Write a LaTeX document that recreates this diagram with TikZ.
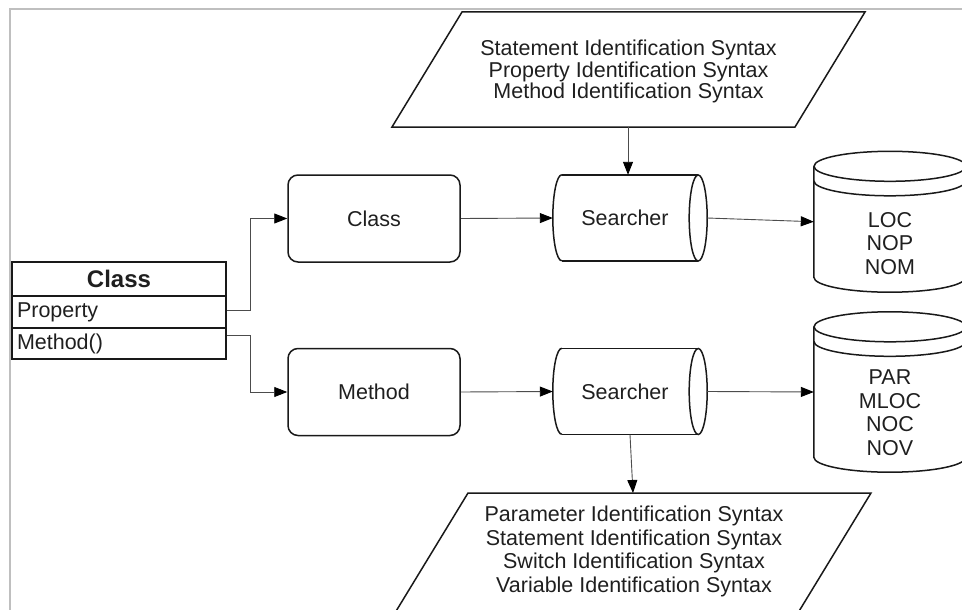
\documentclass[tikz,border=0pt]{standalone}
\usepackage{fontspec}
\setmainfont{Liberation Sans}
\usetikzlibrary{arrows.meta,calc}

% horizontal "searcher" drum: open left end, full ellipse on the right
\newcommand\drawdrum[1]{%
  \draw[shapeline] ($(#1.north west)+(9,0)$) -- ($(#1.north east)+(-9,0)$);
  \draw[shapeline] ($(#1.south west)+(9,0)$) -- ($(#1.south east)+(-9,0)$);
  \draw[shapeline] ($(#1.east)+(-9,0)$) ellipse[x radius=9pt, y radius=43pt];
  \draw[shapeline] ($(#1.north west)+(9,0)$) arc[start angle=90, end angle=270, x radius=9pt, y radius=43pt];
}
% upright database cylinder with a doubled top rim
\newcommand\drawdb[1]{%
  \draw[shapeline] (#1.north) ellipse[x radius=76pt, y radius=15pt];
  \draw[shapeline] (#1.north west) -- (#1.south west)
      arc[start angle=180, end angle=360, x radius=76pt, y radius=15pt] -- (#1.north east);
  \draw[shapeline] ($(#1.north west)+(0,14.5)$)
      arc[start angle=180, end angle=360, x radius=76pt, y radius=15pt];
}

\begin{document}
\begin{tikzpicture}[x=1pt, y=-1pt,
  every node/.style={inner sep=0pt, text=black!88},
  txt/.style={font=\fontsize{21.5}{23.5}\selectfont, align=center},
  shapeline/.style={line width=1.5pt, draw=black!90},
  rbox/.style={txt, draw=black!90, line width=1.5pt, rounded corners=10pt,
               minimum width=172pt, minimum height=87pt},
  drum/.style={txt, minimum width=154pt, minimum height=86pt},
  dbbox/.style={minimum width=152pt},
  umlrow/.style={draw=black!90, line width=1.5pt, minimum width=214pt,
                 text width=204pt, inner xsep=5pt, align=left,
                 font=\fontsize{21.5}{23.5}\selectfont},
  conn/.style={line width=0.9pt, draw=black!70,
               -{Triangle[length=13pt, width=10pt, color=black]}},
  framecol/.style={draw=black!25, line width=1.5pt}
]
\useasboundingbox (0,0) rectangle (962,610);

% outer frame
\draw[framecol] (962,9) -- (10,9) -- (10,612);

% UML class
\node[umlrow, align=center, minimum height=34pt,
      font=\fontsize{24}{26}\bfseries] (clshead) at (119,279) {Class};
\node[umlrow, minimum height=32pt] (prop) at (119,312) {Property};
\node[umlrow, minimum height=31pt] (meth) at (119,343.5) {Method()};

% extracted parts
\node[rbox] (clsbox) at (374,218.5) {Class};
\node[rbox] (methbox) at (374,392) {Method};

% searchers
\node[drum] (s1) at (630,218) {\hspace*{-10pt}Searcher};
\node[drum] (s2) at (630,391.5) {\hspace*{-10pt}Searcher};
\drawdrum{s1}
\drawdrum{s2}

% syntax rule inputs (parallelograms)
\draw[shapeline] (462,12) -- (865,12) -- (795,127) -- (392,127) -- cycle;
\node[txt, font=\fontsize{21.5}{21.5}\selectfont] (rulesA) at (628.5,71.5)
  {Statement Identification Syntax\\Property Identification Syntax\\Method Identification Syntax};
\coordinate (rulesAout) at (628,127);

\draw[shapeline] (468,493) -- (871,493) -- (796.7,615) -- (393.7,615) -- cycle;
\node[txt] (rulesB) at (634,551.5)
  {Parameter Identification Syntax\\Statement Identification Syntax\\Switch Identification Syntax\\Variable Identification Syntax};
\coordinate (rulesBin) at (633,493);

% metric stores
\node[dbbox, minimum height=110.5pt] (db1) at (890,221.75) {};
\node[dbbox, minimum height=130pt] (db2) at (890,392) {};
\drawdb{db1}
\drawdb{db2}
\node[txt] (db1t) at (890,243.5) {LOC\\NOP\\NOM};
\node[txt] (db2t) at (890,412.5) {PAR\\MLOC\\NOC\\NOV};

% connectors
\draw[conn] ([yshift=2pt]prop.east) -- ++(24,0) |- (clsbox.west);
\draw[conn] ([yshift=8.5pt]meth.east) -- ++(24,0) |- (methbox.west);
\draw[conn] (clsbox.east) -- (s1.west);
\draw[conn] (methbox.east) -- (s2.west);
\draw[conn] (rulesAout) -- (rulesAout |- s1.north);
\draw[conn] (s1.east) -- (db1.west);
\draw[conn] (s2.east) -- (db2.west);
\draw[conn] (s2.south) -- (rulesBin);
\end{tikzpicture}
\end{document}
